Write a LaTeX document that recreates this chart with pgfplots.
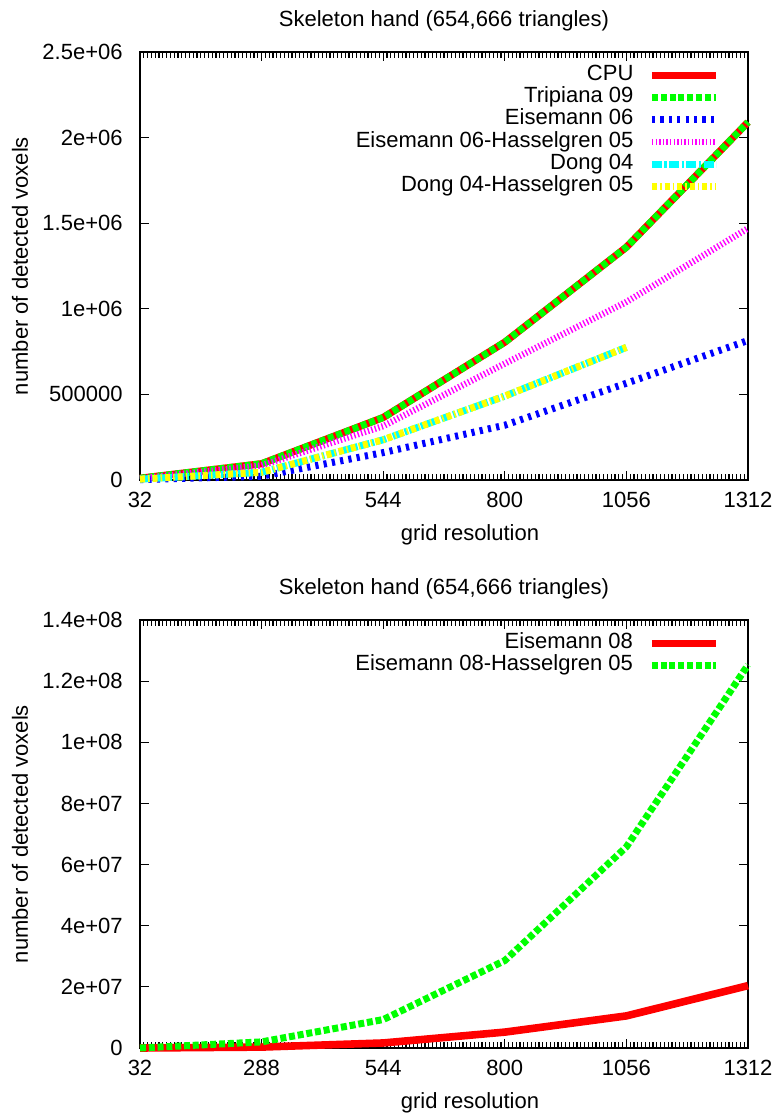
\documentclass[border=0pt]{standalone}
\usepackage{fontspec}
\setmainfont{Liberation Sans}
\usepackage{pgfplots}
\pgfplotsset{compat=1.18}
\definecolor{gpred}{RGB}{255,0,0}
\definecolor{gpgreen}{RGB}{0,255,0}
\definecolor{gpblue}{RGB}{0,0,255}
\definecolor{gpmagenta}{RGB}{255,0,255}
\definecolor{gpcyan}{RGB}{0,255,255}
\definecolor{gpyellow}{RGB}{255,255,0}
\pgfplotsset{
  gp/.style={
    scale only axis, width=304pt, height=214pt,
    xmin=32, xmax=1312,
    xtick={32,288,544,800,1056,1312},
    xticklabels={32,288,544,800,1056,1312},
    xminorticks=true,
    minor x tick num=31,
    tick align=inside,
    major tick length=4.5pt,
    minor tick length=2.8pt,
    major tick style={black, line width=0.5pt},
    minor tick style={black, line width=0.6pt},
    axis line style={line width=0.9pt},
    scaled y ticks=false,
    clip=false,
    xticklabel style={anchor=center, inner sep=0pt, yshift=-10pt},
    yticklabel style={anchor=east, inner sep=0pt, xshift=-8.5pt},
    every axis x label/.style={at={(axis description cs:0.5428,-0.1285)}, anchor=center},
    every axis y label/.style={at={(axis description cs:-0.1974,0.5)}, rotate=90, anchor=center},
    every axis title/.style={at={(axis description cs:0.5,1.072)}, anchor=center},
    xlabel={grid resolution},
    ylabel={number of detected voxels},
    title={Skeleton hand (654,666 triangles)},
    legend style={at={(rel axis cs:1,1)}, anchor=north east, xshift=-14pt, yshift=-6pt,
      draw=none, fill=none, inner sep=0pt, /tikz/column sep=7.5pt, /tikz/row sep=0pt,
      nodes={inner xsep=0pt, inner ysep=0pt, text height=8pt, text depth=3.1pt}},
    legend cell align=right,
    legend plot pos=right,
    legend image code/.code={\draw[##1] (0pt,0pt) -- (32pt,0pt);},
    every axis plot/.append style={line join=round},
  },
}
\begin{document}
\begin{tikzpicture}[font=\fontsize{11}{13}\selectfont]
\useasboundingbox (-70pt,-319.5pt) rectangle (320pt,240pt);
\begin{axis}[gp, at={(0pt,0pt)}, anchor=south west,
  ymin=0, ymax=2500000,
  ytick={0,500000,1000000,1500000,2000000,2500000},
  yticklabels={0,500000,1e+06,1.5e+06,2e+06,2.5e+06}]
\addplot[gpred, line width=3.6pt] coordinates {(32,10000) (288,95000) (544,365000) (800,805000) (1056,1360000) (1312,2090000)};
\addlegendentry{CPU}
\addplot[gpgreen, line width=3.5pt, dash pattern=on 3pt off 1.4pt] coordinates {(32,10000) (288,95000) (544,365000) (800,805000) (1056,1360000) (1312,2090000)};
\addlegendentry{Tripiana 09}
\addplot[gpblue, line width=3.5pt, dash pattern=on 1.6pt off 2.6pt] coordinates {(32,2000) (288,22000) (544,160000) (800,320000) (1056,565000) (1312,815000)};
\addlegendentry{Eisemann 06}
\addplot[gpmagenta, line width=3.2pt, dash pattern=on 0.7pt off 1.1pt] coordinates {(32,8000) (288,85000) (544,315000) (800,680000) (1056,1040000) (1312,1470000)};
\addlegendentry{Eisemann 06-Hasselgren 05}
\addplot[gpcyan, line width=3.5pt, dash pattern=on 5pt off 1.2pt on 1.2pt off 1.2pt] coordinates {(32,5000) (288,45000) (544,235000) (800,490000) (1056,775000)};
\addlegendentry{Dong 04}
\addplot[gpyellow, line width=3.5pt, dash pattern=on 2.5pt off 1.5pt on 0.8pt off 1.5pt] coordinates {(32,5000) (288,45000) (544,235000) (800,490000) (1056,775000)};
\addlegendentry{Dong 04-Hasselgren 05}
\end{axis}
\begin{axis}[gp, at={(0pt,-284pt)}, anchor=south west,
  ymin=0, ymax=140000000,
  ytick={0,20000000,40000000,60000000,80000000,100000000,120000000,140000000},
  yticklabels={0,2e+07,4e+07,6e+07,8e+07,1e+08,1.2e+08,1.4e+08}]
\addplot[gpred, line width=3.8pt] coordinates {(32,0) (288,300000) (544,1650000) (800,5200000) (1056,10500000) (1312,20400000)};
\addlegendentry{Eisemann 08}
\addplot[gpgreen, line width=3.5pt, dash pattern=on 3pt off 1.4pt] coordinates {(32,2000) (288,2000000) (544,9300000) (800,28600000) (1056,65800000) (1312,125300000)};
\addlegendentry{Eisemann 08-Hasselgren 05}
\end{axis}
\end{tikzpicture}
\end{document}
